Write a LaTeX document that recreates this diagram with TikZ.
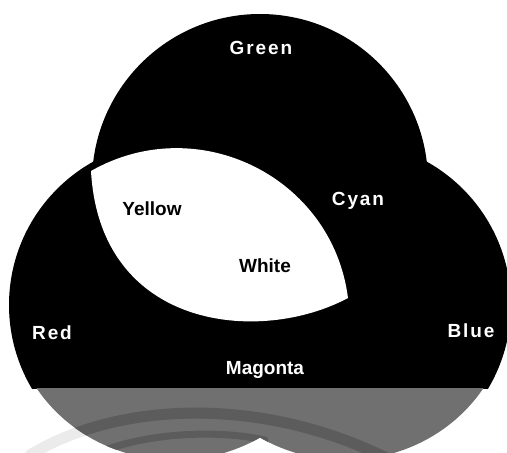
\documentclass[tikz,border=0pt]{standalone}
\usepackage{fontspec}
\setmainfont{Liberation Sans}
\usepackage{tikz}
\definecolor{mirGray}{HTML}{707070}
\definecolor{mirDark}{HTML}{5C5C5C}
\definecolor{mirLight}{HTML}{EBEBEB}

\begin{document}
\begin{tikzpicture}[x=1pt, y=-1pt,
  every node/.style={inner sep=0pt, anchor=base, font=\fontsize{19}{19}\selectfont\bfseries},
  onblack/.style={text=white},
  onwhite/.style={text=black},
  wide/.style={font=\fontsize{19}{19}\selectfont\bfseries\addfontfeature{LetterSpace=10}},
  ring/.style={line width=#1, line cap=round}
]
  \useasboundingbox (0,0) rectangle (507,453);
  \begin{scope}
    \clip (0,0) rectangle (507,388);
    \fill[black] (260,182) circle[radius=168pt];
    \fill[black] (173,305) circle[radius=164pt];
    \fill[black] (347,305) circle[radius=164pt];
  \end{scope}
  \fill[white] (91,171) .. controls (197.4,110.3) and (332.4,176.5) .. (348,298)
               .. controls (260,345) and (100,330) .. cycle;
  \begin{scope}
    \clip (0,388) rectangle (507,453);
    \draw[mirLight, ring=11pt] (30,455) .. controls (120,400) and (270,395) .. (400,465);
    \fill[mirGray] (175,305) ellipse[x radius=164pt, y radius=155pt]
                   (345,305) ellipse[x radius=164pt, y radius=155pt];
    \clip (175,305) ellipse[x radius=164pt, y radius=155pt]
          (345,305) ellipse[x radius=164pt, y radius=155pt];
    \draw[mirDark, ring=11pt] (30,455) .. controls (120,400) and (270,395) .. (400,465);
    \draw[mirDark, ring=7pt] (100,452) .. controls (150,432) and (220,430) .. (265,440);
  \end{scope}
  \node[onblack, wide] (green)   at (261,54)    {Green};
  \node[onwhite]       (yellow)  at (152,215.7) {Yellow};
  \node[onblack, wide] (cyan)    at (358,205)   {Cyan};
  \node[onwhite]       (white)   at (265,272.7) {White};
  \node[onblack, wide] (red)     at (52,339.3)  {Red};
  \node[onblack, wide] (blue)    at (471,337.3) {Blue};
  \node[onblack]       (magonta) at (265,374)   {Magonta};
\end{tikzpicture}
\end{document}
